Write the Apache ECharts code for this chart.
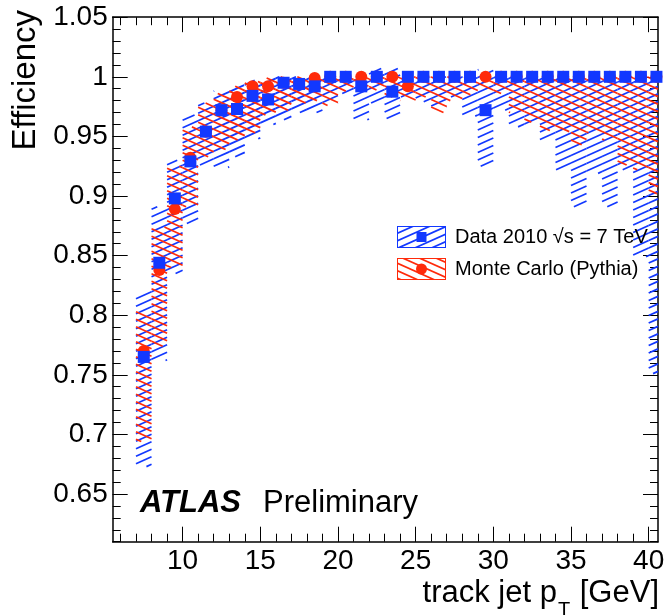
<!DOCTYPE html>
<html>
<head>
<meta charset="utf-8">
<script src="https://cdn.jsdelivr.net/npm/echarts@6/dist/echarts.min.js"></script>
<style>
  html, body { margin: 0; padding: 0; background: #fff; }
  #chart { width: 665px; height: 615px; }
</style>
</head>
<body>
<div id="chart"></div>
<script>
// bin centres (track jet pT, GeV), bins are 1 GeV wide
const binCenters = [7.5, 8.5, 9.5, 10.5, 11.5, 12.5, 13.5, 14.5, 15.5, 16.5, 17.5, 18.5,
  19.5, 20.5, 21.5, 22.5, 23.5, 24.5, 25.5, 26.5, 27.5, 28.5, 29.5, 30.5, 31.5, 32.5,
  33.5, 34.5, 35.5, 36.5, 37.5, 38.5, 39.5, 40.5];
const halfBin = 0.5;

// Data 2010
const dataEff = [0.765, 0.844, 0.898, 0.929, 0.954, 0.972, 0.973, 0.984, 0.981, 0.995, 0.994, 0.992,
  1.0, 1.0, 0.992, 1.0, 0.9875, 1.0, 1.0, 1.0, 1.0, 1.0, 0.972, 1.0, 1.0, 1.0,
  1.0, 1.0, 1.0, 1.0, 1.0, 1.0, 1.0, 1.0];
const dataLow = [0.673, 0.762, 0.835, 0.877, 0.926, 0.924, 0.933, 0.948, 0.960, 0.964, 0.970, 0.970,
  0.978, 0.986, 0.964, 0.978, 0.965, 0.983, 0.979, 0.975, 0.983, 0.967, 0.925, 0.972, 0.958, 0.960,
  0.947, 0.922, 0.891, 0.919, 0.891, 0.922, 0.849, 0.751];
const dataHigh = [0.820, 0.891, 0.930, 0.968, 0.978, 0.988, 0.993, 0.997, 0.999, 1.0, 1.0, 1.0,
  1.0, 1.0, 1.0, 1.007, 1.007, 1.0, 1.0, 1.0, 1.0, 1.0, 1.006, 1.0, 1.0, 1.0,
  1.0, 1.0, 1.0, 1.0, 1.0, 1.0, 1.0, 1.0];

// Monte Carlo (Pythia)
const mcEff = [0.770, 0.838, 0.889, 0.932, 0.954, 0.972, 0.983, 0.992, 0.992, 0.995, 0.994, 0.999,
  1.0, 1.0, 1.0, 1.0, 1.0, 0.992, 1.0, 1.0, 1.0, 1.0, 1.0, 1.0, 1.0, 1.0,
  1.0, 1.0, 1.0, 1.0, 1.0, 1.0, 1.0, 1.0];
const mcLow = [0.694, 0.774, 0.840, 0.891, 0.933, 0.939, 0.947, 0.953, 0.968, 0.972, 0.978, 0.980,
  0.976, 0.988, 0.992, 0.989, 0.983, 0.980, 0.983, 0.970, 0.980, 0.985, 0.989, 0.986, 0.970, 0.962,
  0.955, 0.954, 0.943, 0.953, 0.947, 0.926, 0.922, 0.902];
const mcHigh = [0.803, 0.874, 0.925, 0.958, 0.978, 0.986, 0.992, 0.996, 0.999, 1.0, 1.0, 1.0,
  1.0, 1.0, 1.0, 1.0, 1.0, 1.0, 1.0, 1.0, 1.0, 1.0, 1.0, 1.0, 1.0, 1.0,
  1.0, 1.0, 1.0, 1.0, 1.0, 1.0, 1.0, 1.0];

// axis ticks
const xMajorTicks = [10, 15, 20, 25, 30, 35, 40];
const yMajorTicks = [0.65, 0.7, 0.75, 0.8, 0.85, 0.9, 0.95, 1, 1.05];
const xMinorTicks = [];
for (let v = 6; v <= 40; v++) xMinorTicks.push(v);
const yMinorTicks = [];
for (let k = 61; k <= 105; k++) yMinorTicks.push(k / 100);

const dataName = 'Data 2010 \u221As = 7 TeV';
const mcName = 'Monte Carlo (Pythia)';
const BLUE = '#1238ff';
const RED = '#ff2a0a';
const FONT = '"Liberation Sans", Arial, Helvetica, sans-serif';
const HATCH_SLOPE = 0.45;
const HATCH_STEP = 7.5;
const HATCH_WIDTH = 1.7;

// hatched box renderer, dir 1 = "///", dir -1 = "\\\"
function hatchBand(dir, color) {
  return function (params, api) {
    const xc = api.value(0), lo = api.value(1), hi = api.value(2);
    const pA = api.coord([xc - halfBin, hi]);
    const pB = api.coord([xc + halfBin, lo]);
    const cs = params.coordSys;
    const x0 = Math.max(pA[0], cs.x), x1 = Math.min(pB[0], cs.x + cs.width);
    const y0 = Math.max(pA[1], cs.y), y1 = Math.min(pB[1], cs.y + cs.height);
    const m = HATCH_SLOPE, sp = HATCH_STEP;
    const children = [];
    if (x1 <= x0 || y1 <= y0) return { type: 'group', children: children };
    if (dir > 0) {
      const cMin = y0 + m * x0, cMax = y1 + m * x1;
      for (let k = Math.ceil(cMin / sp); k * sp <= cMax; k++) {
        const c = k * sp;
        const xa = Math.max(x0, (c - y1) / m), xb = Math.min(x1, (c - y0) / m);
        if (xb > xa) children.push({
          type: 'line',
          shape: { x1: xa, y1: c - m * xa, x2: xb, y2: c - m * xb },
          style: { stroke: color, lineWidth: HATCH_WIDTH }
        });
      }
    } else {
      const off = 3;
      const cMin = y0 - m * x1, cMax = y1 - m * x0;
      for (let k = Math.ceil((cMin - off) / sp); k * sp + off <= cMax; k++) {
        const c = k * sp + off;
        const xa = Math.max(x0, (y0 - c) / m), xb = Math.min(x1, (y1 - c) / m);
        if (xb > xa) children.push({
          type: 'line',
          shape: { x1: xa, y1: c + m * xa, x2: xb, y2: c + m * xb },
          style: { stroke: color, lineWidth: HATCH_WIDTH }
        });
      }
    }
    return { type: 'group', children: children };
  };
}

// legend icons: hatched box with marker
function legendIcon(color, dir, marker) {
  const w = 49, h = 22;
  const cv = document.createElement('canvas');
  cv.width = w; cv.height = h;
  const g = cv.getContext('2d');
  g.strokeStyle = color;
  g.lineWidth = HATCH_WIDTH;
  for (let k = -6; k < 12; k++) {
    const c = k * HATCH_STEP;
    g.beginPath();
    if (dir > 0) { g.moveTo(0, c); g.lineTo(w, c - HATCH_SLOPE * w); }
    else { g.moveTo(0, c - 10); g.lineTo(w, c - 10 + HATCH_SLOPE * w); }
    g.stroke();
  }
  g.lineWidth = 1;
  g.strokeRect(0.5, 0.5, w - 1, h - 1);
  g.fillStyle = color;
  if (marker === 'rect') g.fillRect(w / 2 - 5, h / 2 - 5, 10, 10);
  else { g.beginPath(); g.arc(w / 2, h / 2, 5.5, 0, Math.PI * 2); g.fill(); }
  return 'image://' + cv.toDataURL();
}

function xAxisDef(position, ticks, len, labels, line) {
  return {
    type: 'value', position: position, min: 5.5, max: 40.6,
    splitLine: { show: false },
    axisLine: { show: line, onZero: false, lineStyle: { color: '#000', width: 1.5 } },
    axisTick: { show: true, inside: true, length: len, customValues: ticks, lineStyle: { color: '#000', width: 1 } },
    axisLabel: labels ? { show: true, customValues: xMajorTicks, margin: 6, color: '#000', fontSize: 28, fontFamily: FONT } : { show: false }
  };
}
function yAxisDef(position, ticks, len, labels, line) {
  return {
    type: 'value', position: position, min: 0.61, max: 1.05,
    splitLine: { show: false },
    axisLine: { show: line, onZero: false, lineStyle: { color: '#000', width: 1.5 } },
    axisTick: { show: true, inside: true, length: len, customValues: ticks, lineStyle: { color: '#000', width: 1 } },
    axisLabel: labels ? { show: true, customValues: yMajorTicks, margin: 5, color: '#000', fontSize: 28, fontFamily: FONT } : { show: false }
  };
}

const chart = echarts.init(document.getElementById('chart'), null, { renderer: 'canvas' });

const option = {
  animation: false,
  backgroundColor: '#fff',
  grid: { left: 112.7, right: 7, top: 17.2, bottom: 73.3, containLabel: false, outerBoundsMode: 'none' },
  title: {
    text: '{a|ATLAS}{b|Preliminary}',
    left: 140, top: 488, padding: 0,
    textStyle: {
      fontWeight: 'normal',
      rich: {
        a: { fontSize: 31, fontWeight: 'bold', fontStyle: 'italic', fontFamily: FONT, color: '#000' },
        b: { fontSize: 31, fontWeight: 'normal', fontFamily: FONT, color: '#000', padding: [0, 0, 0, 22] }
      }
    }
  },
  legend: {
    left: 392, top: 221, orient: 'vertical',
    itemWidth: 49, itemHeight: 22, itemGap: 10,
    selectedMode: false,
    textStyle: { fontSize: 20, fontFamily: FONT, color: '#000', padding: [0, 0, 0, 4] },
    data: [
      { name: dataName, icon: legendIcon(BLUE, 1, 'rect') },
      { name: mcName, icon: legendIcon(RED, -1, 'circle') }
    ]
  },
  xAxis: [
    xAxisDef('bottom', xMajorTicks, 15, true, true),
    xAxisDef('bottom', xMinorTicks, 8, false, false),
    xAxisDef('top', xMajorTicks, 15, false, true),
    xAxisDef('top', xMinorTicks, 8, false, false)
  ],
  yAxis: [
    yAxisDef('left', yMajorTicks, 15, true, true),
    yAxisDef('left', yMinorTicks, 8, false, false),
    yAxisDef('right', yMajorTicks, 15, false, true),
    yAxisDef('right', yMinorTicks, 8, false, false)
  ],
  graphic: [
    {
      type: 'text', x: 26, y: 10, rotation: Math.PI / 2, silent: true,
      style: { text: 'Efficiency', fontSize: 33, fontFamily: FONT, fill: '#000', align: 'right', verticalAlign: 'middle' }
    },
    {
      type: 'text', x: 659, y: 593, silent: true,
      style: {
        text: 'track jet p{s|T} [GeV]', fontSize: 31, fontFamily: FONT, fill: '#000',
        align: 'right', verticalAlign: 'middle',
        rich: { s: { fontSize: 20, fontFamily: FONT, fill: '#000', padding: [34, 1, 0, 1] } }
      }
    }
  ],
  series: [
    {
      name: dataName, type: 'custom', silent: true,
      renderItem: hatchBand(1, BLUE),
      encode: { x: 0, y: [1, 2] },
      data: binCenters.map((x, i) => [x, dataLow[i], dataHigh[i]])
    },
    {
      name: mcName, type: 'custom', silent: true,
      renderItem: hatchBand(-1, RED),
      encode: { x: 0, y: [1, 2] },
      data: binCenters.map((x, i) => [x, mcLow[i], mcHigh[i]])
    },
    {
      name: mcName, type: 'scatter', symbol: 'circle', symbolSize: 12, silent: true,
      itemStyle: { color: RED, opacity: 1 },
      data: binCenters.map((x, i) => [x, mcEff[i]])
    },
    {
      name: dataName, type: 'scatter', symbol: 'rect', symbolSize: 12, silent: true,
      itemStyle: { color: BLUE, opacity: 1 },
      data: binCenters.map((x, i) => [x, dataEff[i]])
    }
  ]
};

chart.setOption(option);
</script>
</body>
</html>
